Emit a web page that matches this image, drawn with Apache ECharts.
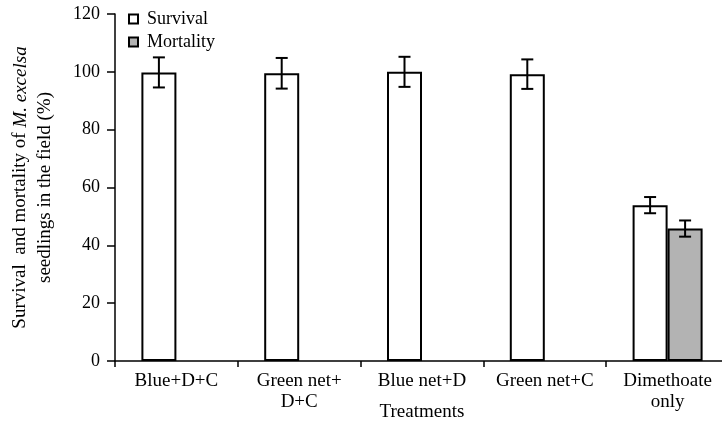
<!DOCTYPE html>
<html>
<head>
<meta charset="utf-8">
<script src="https://cdn.jsdelivr.net/npm/echarts@6/dist/echarts.min.js"></script>
<style>html,body{margin:0;padding:0;background:#fff;}#chart{width:722px;height:423px;}</style>
</head>
<body>
<div id="chart"></div>
<script>
const categories = ['Blue+D+C', 'Green net+\nD+C', 'Blue net+D', 'Green net+C', 'Dimethoate\nonly'];
const survival = [99.8, 99.5, 100.0, 99.2, 53.9];
const survivalErr = [5.2, 5.3, 5.2, 5.1, 2.8];
const mortality = [null, null, null, null, 45.8];
const mortalityErr = [null, null, null, null, 2.8];
const yTicks = [0, 20, 40, 60, 80, 100, 120];

const FONT = '"Liberation Serif", "Times New Roman", serif';
const BAR_W = 35;

function errData(vals, errs) {
  const out = [];
  vals.forEach((v, i) => { if (v != null && errs[i] != null) out.push([i, v, errs[i]]); });
  return out;
}
function errRender(offset) {
  return function (params, api) {
    const xi = api.value(0), v = api.value(1), e = api.value(2);
    const top = api.coord([xi, v + e]);
    const bot = api.coord([xi, v - e]);
    const x = top[0] + offset;
    const cap = 6;
    const st = { stroke: '#000', lineWidth: 2 };
    return {
      type: 'group',
      children: [
        { type: 'line', shape: { x1: x, y1: top[1], x2: x, y2: bot[1] }, style: st },
        { type: 'line', shape: { x1: x - cap, y1: top[1], x2: x + cap, y2: top[1] }, style: st },
        { type: 'line', shape: { x1: x - cap, y1: bot[1], x2: x + cap, y2: bot[1] }, style: st }
      ]
    };
  };
}

const chart = echarts.init(document.getElementById('chart'), null, { renderer: 'canvas' });
chart.setOption({
  animation: false,
  backgroundColor: '#fff',
  textStyle: { fontFamily: FONT },
  grid: { left: 115, right: -7, top: 14, bottom: 62, containLabel: false, outerBoundsMode: 'none' },
  legend: {
    orient: 'vertical',
    left: 123, top: 5,
    itemWidth: 9, itemHeight: 9, itemGap: 5,
    icon: 'rect',
    data: ['Survival', 'Mortality'],
    textStyle: { fontFamily: FONT, fontSize: 18, color: '#000', padding: [0, 0, 0, 4] }
  },
  xAxis: {
    type: 'category',
    data: categories,
    name: 'Treatments',
    nameLocation: 'middle',
    nameGap: 42,
    nameMoveOverlap: false,
    nameTextStyle: { fontFamily: FONT, fontSize: 19, color: '#000', verticalAlign: 'top' },
    axisLine: { lineStyle: { color: '#000', width: 1.5 } },
    axisTick: { show: true, length: 6, lineStyle: { color: '#000', width: 1.5 } },
    axisLabel: { fontFamily: FONT, fontSize: 19, color: '#000', margin: 10, lineHeight: 21, interval: 0 }
  },
  yAxis: {
    type: 'value',
    min: 0, max: 120, interval: 20,
    name: '{n|Survival  and mortality of }{i|M. excelsa}\n{n|seedlings in the field (%)}',
    nameLocation: 'middle',
    nameRotate: 90,
    nameGap: 57,
    nameMoveOverlap: false,
    nameTextStyle: {
      color: '#000',
      rich: {
        n: { fontFamily: FONT, fontSize: 19, color: '#000', lineHeight: 25 },
        i: { fontFamily: FONT, fontSize: 19, color: '#000', fontStyle: 'italic', lineHeight: 25 }
      }
    },
    splitLine: { show: false },
    axisLine: { show: true, lineStyle: { color: '#000', width: 1.5 } },
    axisTick: { show: true, length: 8, lineStyle: { color: '#000', width: 1.5 } },
    axisLabel: {
      fontFamily: FONT, fontSize: 18, color: '#000', margin: 15,
      formatter: v => (yTicks.indexOf(v) >= 0 ? String(v) : '')
    }
  },
  series: [
    {
      name: 'Survival', type: 'bar', data: survival,
      barWidth: BAR_W, barGap: '0%',
      itemStyle: { color: '#fff', borderColor: '#000', borderWidth: 2 }
    },
    {
      name: 'Mortality', type: 'bar', data: mortality,
      barWidth: BAR_W, barGap: '0%',
      itemStyle: { color: '#b3b3b3', borderColor: '#000', borderWidth: 2 }
    },
    {
      type: 'custom', name: 'survErr', data: errData(survival, survivalErr),
      renderItem: errRender(-BAR_W / 2), z: 5, silent: true
    },
    {
      type: 'custom', name: 'mortErr', data: errData(mortality, mortalityErr),
      renderItem: errRender(BAR_W / 2), z: 5, silent: true
    }
  ]
});
</script>
</body>
</html>
